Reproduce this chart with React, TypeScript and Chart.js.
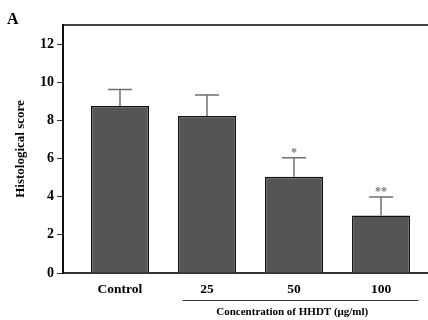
import React, { useEffect, useRef } from "react";
import { Chart, registerables } from "chart.js";

Chart.register(...registerables);

const categories = ["Control", "25", "50", "100"];
const scores = [8.75, 8.23, 5.05, 3.02];
const errors = [0.87, 1.1, 0.99, 0.96];
const significance = ["", "", "*", "**"];
const yTicks = [0, 2, 4, 6, 8, 10, 12];
const groupLabel = "Concentration of HHDT (μg/ml)";
const panelLabel = "A";
const yTitle = "Histological score";

const SERIF = "'Liberation Serif', 'Times New Roman', serif";

const extrasPlugin = {
  id: "extras",
  afterDatasetsDraw(chart: any) {
    const { ctx, scales } = chart;
    const x = scales.x;
    const y = scales.y;
    ctx.save();
    ctx.strokeStyle = "#6f6f6f";
    ctx.lineWidth = 1.5;
    scores.forEach((v, i) => {
      const px = x.getPixelForValue(i);
      const yb = y.getPixelForValue(v);
      const yt = y.getPixelForValue(v + errors[i]);
      ctx.beginPath();
      ctx.moveTo(px, yb);
      ctx.lineTo(px, yt);
      ctx.moveTo(px - 12, yt);
      ctx.lineTo(px + 12, yt);
      ctx.stroke();
      if (significance[i]) {
        ctx.fillStyle = "#777";
        ctx.font = `bold 12px ${SERIF}`;
        ctx.textAlign = "center";
        ctx.textBaseline = "alphabetic";
        ctx.fillText(significance[i], px, yt - 2);
      }
    });
    ctx.restore();
  },
  afterDraw(chart: any) {
    const { ctx, scales } = chart;
    const x = scales.x;
    ctx.save();
    ctx.fillStyle = "#000";
    ctx.font = `bold 16px ${SERIF}`;
    ctx.textAlign = "left";
    ctx.textBaseline = "middle";
    ctx.fillText(panelLabel, 7, 20);
    ctx.strokeStyle = "#333";
    ctx.lineWidth = 1;
    ctx.beginPath();
    ctx.moveTo(x.getPixelForValue(0.72), 300.5);
    ctx.lineTo(x.getPixelForValue(3.43), 300.5);
    ctx.stroke();
    ctx.font = `bold 11px ${SERIF}`;
    ctx.textAlign = "center";
    ctx.fillText(groupLabel, x.getPixelForValue(1.98), 312);
    ctx.restore();
  },
};

export default function App() {
  const ref = useRef<HTMLCanvasElement>(null);
  useEffect(() => {
    if (!ref.current) return;
    const chart = new Chart(ref.current, {
      type: "bar",
      data: {
        datasets: [
          {
            data: categories.map((_, i) => ({ x: i, y: scores[i] })),
            backgroundColor: "#555555",
            borderColor: "#111111",
            borderWidth: 1.5,
            barPercentage: 0.667,
            categoryPercentage: 1,
          },
        ],
      },
      options: {
        animation: false,
        responsive: false,
        layout: { padding: 0 },
        plugins: { legend: { display: false }, tooltip: { enabled: false } },
        scales: {
          x: {
            type: "linear",
            position: "bottom",
            offset: false,
            min: -0.655,
            max: 3.54,
            afterBuildTicks: (s: any) => {
              s.ticks = categories.map((_, i) => ({ value: i }));
            },
            afterFit: (s: any) => {
              s.height = 47;
            },
            grid: { display: false, drawTicks: false },
            border: { display: true, color: "#333", width: 2 },
            ticks: {
              autoSkip: false,
              maxRotation: 0,
              padding: 8,
              color: "#000",
              font: { family: SERIF, size: 13.5, weight: "bold" },
              callback: (v: any) => categories[v as number] ?? "",
            },
          },
          xTop: {
            type: "linear",
            position: "top",
            offset: false,
            min: -0.655,
            max: 3.54,
            afterFit: (s: any) => {
              s.height = 25;
            },
            grid: { display: false, drawTicks: false },
            border: { display: true, color: "#444", width: 2 },
            ticks: { display: false },
          },
          y: {
            type: "linear",
            min: 0,
            max: 13,
            afterBuildTicks: (s: any) => {
              s.ticks = yTicks.map((v) => ({ value: v }));
            },
            afterFit: (s: any) => {
              s.width = 63;
            },
            grid: {
              drawOnChartArea: false,
              drawTicks: true,
              tickLength: 6,
              color: "#333",
              lineWidth: 1,
            },
            border: { display: true, color: "#111", width: 2 },
            ticks: {
              padding: 3,
              color: "#000",
              font: { family: SERIF, size: 14, weight: "bold" },
            },
            title: {
              display: true,
              text: yTitle,
              color: "#000",
              font: { family: SERIF, size: 13, weight: "bold" },
              padding: { top: 13, bottom: 0 },
            },
          },
        },
      },
      plugins: [extrasPlugin],
    });
    return () => chart.destroy();
  }, []);
  return (
    <div style={{ position: "fixed", left: 0, top: 0, width: 428, height: 320, background: "#fff" }}>
      <canvas ref={ref} width={428} height={320} />
    </div>
  );
}
